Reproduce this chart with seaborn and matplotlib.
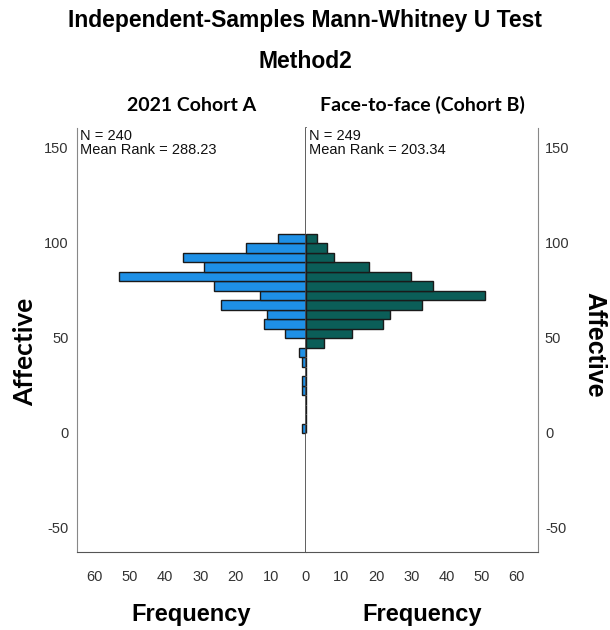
import numpy as np
import pandas as pd
import seaborn as sns
import matplotlib.pyplot as plt

# histogram bins (centre of each 5-wide bin) and frequencies per group
affective_bins = [2, 7, 12, 17, 22, 27, 32, 37, 42, 47, 52,
                  57, 62, 67, 72, 77, 82, 87, 92, 97, 102]
cohort_a_freq = [1, 0, 0, 0, 1, 1, 0, 1, 2, 0, 6,
                 12, 11, 24, 13, 26, 53, 29, 35, 17, 8]
cohort_b_freq = [0, 0, 0, 0, 0, 0, 0, 0, 0, 5, 13,
                 22, 24, 33, 51, 36, 30, 18, 8, 6, 3]

groups = ["2021 Cohort A", "Face-to-face (Cohort B)"]
n_vals = [240, 249]
mean_ranks = [288.23, 203.34]
y_ticks = [-50, 0, 50, 100, 150]
x_ticks_left = [10, 20, 30, 40, 50, 60]
x_ticks_right = [0, 10, 20, 30, 40, 50, 60]

df = pd.DataFrame({"Affective": affective_bins,
                   "A": cohort_a_freq,
                   "B": cohort_b_freq})

sns.set_style("white")
plt.rcParams["font.family"] = ["Liberation Sans", "DejaVu Sans"]
plt.rcParams["axes.unicode_minus"] = False
plt.rcParams["text.color"] = "black"
plt.rcParams["axes.labelcolor"] = "black"

fig = plt.figure(figsize=(6.1, 6.3), dpi=100)
ax_l = fig.add_axes([77 / 610, 78 / 630, 229 / 610, 424 / 630])
ax_r = fig.add_axes([306 / 610, 78 / 630, 232 / 610, 424 / 630])

blue = "#1e90e6"
green = "#0b5e58"

sns.histplot(data=df, y="Affective", weights="A", binwidth=5,
             binrange=(-0.5, 104.5), color=blue, alpha=1,
             edgecolor="#1a1a1a", linewidth=1, ax=ax_l)
sns.histplot(data=df, y="Affective", weights="B", binwidth=5,
             binrange=(-0.5, 104.5), color=green, alpha=1,
             edgecolor="#1a1a1a", linewidth=1, ax=ax_r)

for ax in (ax_l, ax_r):
    ax.set_ylim(-63, 160)
    ax.set_yticks(y_ticks)
    ax.set_ylabel("")
    ax.spines["top"].set_visible(False)
    ax.spines["bottom"].set_color("#555555")
    ax.tick_params(length=0, labelsize=10.5, labelcolor="#333333")
    ax.tick_params(axis="x", pad=13)
    ax.set_xlabel("Frequency", fontsize=17, fontweight="bold", labelpad=14)

ax_l.set_xlim(65, 0)
ax_l.set_xticks(x_ticks_left)
ax_l.spines["left"].set_color("#888888")
ax_l.spines["right"].set_color("#444444")
ax_l.spines["right"].set_linewidth(1.2)
ax_l.tick_params(axis="y", pad=6)

ax_r.set_xlim(0, 66)
ax_r.set_xticks(x_ticks_right)
ax_r.spines["left"].set_visible(False)
ax_r.spines["right"].set_color("#888888")
ax_r.yaxis.tick_right()
ax_r.tick_params(axis="y", pad=5)

for ax, title, n, mr in zip((ax_l, ax_r), groups, n_vals, mean_ranks):
    ax.set_title(title, fontsize=14, fontweight="bold",
                 family=["Lato", "DejaVu Sans"], pad=12)
    ax.text(0.012, 0.997, f"N = {n}\nMean Rank = {mr:.2f}",
            transform=ax.transAxes, ha="left", va="top",
            fontsize=10.5, linespacing=0.95, color="#111111")

fig.text(25 / 610, 1 - 352 / 630, "Affective", rotation=90, ha="center",
         va="center", fontsize=19, fontweight="bold",
         family=["Lato", "DejaVu Sans"])
fig.text(594 / 610, 1 - 345 / 630, "Affective", rotation=270, ha="center",
         va="center", fontsize=18, fontweight="bold")

fig.text(0.5, 1 - 20 / 630, "Independent-Samples Mann-Whitney U Test",
         ha="center", va="center", fontsize=16.5, fontweight="bold")
fig.text(0.5, 1 - 62 / 630, "Method2", ha="center", va="center",
         fontsize=16.5, fontweight="bold")

plt.savefig("out.png", dpi=100)
